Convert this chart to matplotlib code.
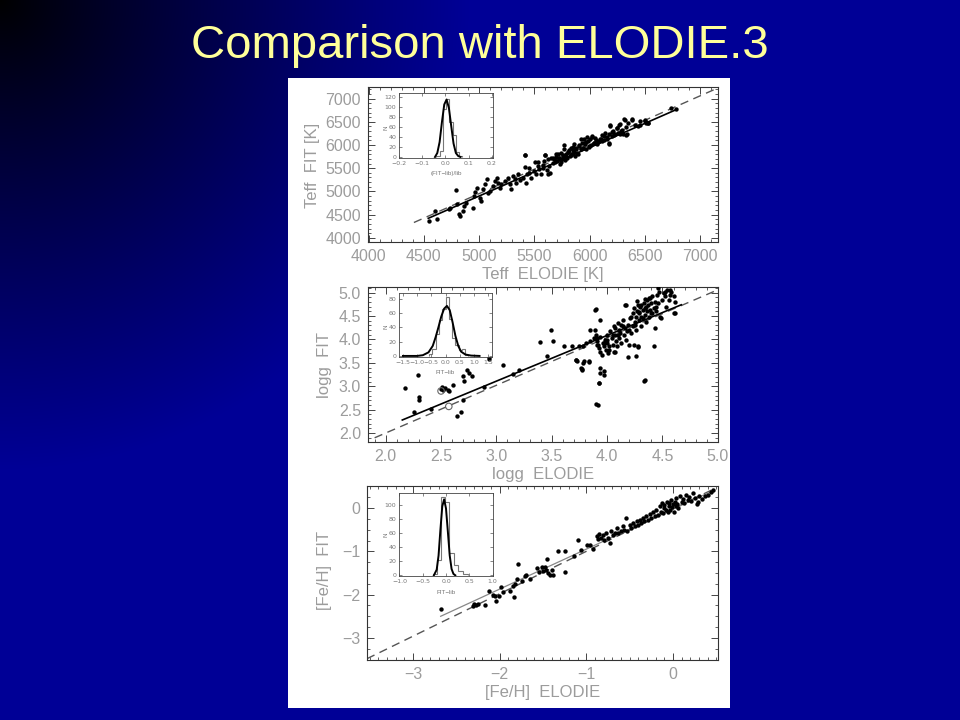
import numpy as np
import matplotlib
matplotlib.use("Agg")
import matplotlib.pyplot as plt
from matplotlib.patches import Rectangle
from matplotlib.ticker import MultipleLocator

# ---------------- data ----------------
title = "Comparison with ELODIE.3"

teff_elodie = [4548, 4598, 4622, 4726, 4741, 4792, 4801, 4815, 4830, 4851, 4860, 4884, 4949, 4955, 4964,
               4979, 5009, 5015, 5033, 5054, 5068, 5083, 5098, 5128, 5143, 5158, 5173, 5188, 5202, 5232,
               5262, 5277, 5292, 5307, 5321, 5336, 5351, 5372, 5396, 5411, 5426, 5411, 5449, 5455, 5470,
               5500, 5515, 5530, 5545, 5560, 5574, 5589, 5598, 5610, 5619, 5634, 5640, 5649, 5664, 5679,
               5693, 5708, 5723, 5729, 5738, 5747, 5759, 5768, 5777, 5789, 5798, 5807, 5819, 5827, 5836,
               5848, 5857, 5866, 5878, 5887, 5902, 5917, 5926, 5938, 5946, 5961, 5970, 5982, 5991, 6006,
               6021, 6036, 6051, 6065, 6080, 6095, 6110, 6125, 6140, 6155, 6170, 6176, 6185, 6199, 6214,
               6229, 6244, 6259, 6274, 6283, 6304, 6313, 6325, 6333, 6348, 6378, 6437, 6452, 6497, 6512,
               6527, 6780,
               5414, 5429, 5503, 5533, 5592, 5577, 5622, 5667, 5682, 5696, 5711, 5726, 5741, 5756, 5771,
               5786, 5800, 5815, 5830, 5845, 5860, 5875, 5890, 5905, 5920, 5935, 5950, 5964, 5979, 5994,
               6009, 6024, 6039, 6054, 6075, 6098, 6113, 6128, 6152, 6173, 6182, 6203, 6223, 6247, 6262,
               6277, 6292, 6321, 6330, 6381, 6411, 6455, 6500, 6530, 6738]
teff_fit = [4359, 4575, 4395, 4611, 4647, 5020, 4733, 4503, 4467, 4575, 4683, 4754, 4647, 4898, 4991,
            5078, 4862, 4790, 5042, 5164, 5257, 4970, 5006, 5114, 5221, 5293, 5185, 5078, 5150, 5221,
            5293, 5150, 5042, 5329, 5257, 5185, 5365, 5236, 5293, 5523, 5185, 5782, 5401, 5509, 5293,
            5437, 5365, 5545, 5473, 5379, 5580, 5652, 5782, 5451, 5688, 5545, 5401, 5724, 5616, 5688,
            5796, 5652, 5724, 5595, 5832, 5688, 5760, 5904, 5667, 5796, 5724, 5853, 5760, 5940, 5810,
            5882, 6011, 5760, 5904, 5832, 5975, 5904, 6048, 5940, 6119, 6011, 5904, 6083, 5975, 6119,
            6191, 6048, 6155, 6011, 6083, 6119, 6083, 6191, 6263, 6119, 6227, 6011, 6407, 6191, 6299,
            6227, 6371, 6263, 6443, 6299, 6227, 6551, 6386, 6227, 6479, 6551, 6407, 6515, 6515, 6479,
            6479, 6766,
            5782, 5386, 5638, 5638, 5782, 5494, 5386, 5710, 5638, 5746, 5817, 5710, 5638, 5782, 5997,
            5746, 5853, 5890, 5782, 5961, 5853, 5925, 5817, 5997, 6140, 5925, 6033, 6069, 6177, 5961,
            5997, 6177, 6033, 6105, 6069, 6140, 6212, 6105, 6177, 6033, 6428, 6284, 6212, 6356, 6428,
            6248, 6320, 6536, 6212, 6536, 6428, 6428, 6536, 6464, 6787]
teff_one2one_x = [4410, 7160]
teff_one2one_y = [4330, 7230]
teff_fitline_x = [4540, 6780]
teff_fitline_y = [4420, 6760]
teff_hist_edges = [-0.039, -0.025, -0.011, 0.003, 0.017, 0.031, 0.045, 0.059, 0.073]
teff_hist_counts = [3, 12, 96, 116, 70, 45, 10, 2]
teff_gauss_x = [-0.045, -0.035, -0.025, -0.015, -0.005, 0.005, 0.015, 0.025, 0.035, 0.045, 0.055, 0.065]
teff_gauss_y = [0, 8, 30, 70, 105, 115, 98, 62, 27, 8, 2, 0]

logg_elodie = [2.17, 2.29, 2.30, 2.30, 2.26, 2.41, 2.50, 2.51, 2.52, 2.54, 2.56, 2.57, 2.61, 2.64, 2.68,
               2.70, 2.70, 2.71, 2.73, 2.75, 2.78, 2.89, 2.93, 2.93, 3.06, 3.15, 3.20, 3.39, 3.46, 3.49,
               3.51, 3.61, 3.68, 3.72, 3.73, 3.75, 3.76, 3.77, 3.79, 3.81, 3.84, 3.85, 3.89, 3.89, 3.90,
               3.91, 3.91, 3.92, 3.93, 3.94, 3.94, 3.95, 3.96, 3.97, 3.97, 3.97, 3.98, 3.99, 4.00, 4.00,
               4.01, 4.02, 4.03, 4.04, 4.05, 4.06, 4.06, 4.07, 4.08, 4.09, 4.10, 4.11, 4.11, 4.12, 4.13,
               4.14, 4.14, 4.15, 4.16, 4.17, 4.17, 4.18, 4.19, 4.20, 4.20, 4.21, 4.22, 4.23, 4.23, 4.24,
               4.25, 4.26, 4.26, 4.27, 4.28, 4.29, 4.29, 4.30, 4.31, 4.31, 4.32, 4.33, 4.34, 4.34, 4.35,
               4.36, 4.36, 4.37, 4.38, 4.39, 4.39, 4.40, 4.41, 4.41, 4.42, 4.43, 4.44, 4.44, 4.45, 4.46,
               4.47, 4.48, 4.50, 4.51, 4.52, 4.53, 4.54, 4.56, 4.57, 4.58, 4.60, 4.61, 4.34, 4.61, 4.42,
               4.26, 4.28, 3.92, 3.93,
               3.90, 3.94, 3.85, 3.78, 3.72, 3.78, 3.84, 3.77, 3.94, 3.94, 3.93, 3.90, 4.19, 4.24, 4.28,
               4.33, 4.16, 4.27, 4.34, 4.38, 4.46, 4.52, 4.57, 4.60, 4.49, 4.43, 4.07, 4.05, 4.00, 3.97,
               3.91, 3.88, 4.02, 4.07, 4.10, 4.13, 4.22, 4.29, 4.32, 4.35, 4.40, 4.25, 4.31]
logg_fit = [2.96, 3.24, 2.78, 2.70, 2.45, 2.51, 2.94, 2.98, 2.92, 2.96, 2.92, 2.89, 3.03, 2.36, 2.46,
            2.70, 3.21, 3.12, 3.35, 3.29, 3.22, 2.98, 3.62, 3.59, 3.46, 3.27, 3.35, 3.94, 3.65, 4.20,
            3.97, 3.85, 3.85, 3.56, 3.55, 3.85, 3.39, 3.37, 3.53, 3.92, 3.53, 3.96, 4.63, 4.20, 4.10,
            4.03, 3.96, 3.88, 3.81, 3.74, 4.06, 3.67, 3.92, 3.85, 3.32, 3.24, 3.99, 3.78, 4.10, 3.92,
            3.71, 3.85, 4.17, 4.03, 3.88, 4.28, 3.74, 4.10, 3.96, 3.85, 4.35, 4.20, 4.03, 4.13, 3.92,
            4.28, 4.42, 4.10, 4.24, 4.74, 3.99, 4.17, 4.31, 3.88, 4.20, 4.45, 4.13, 4.56, 4.28, 4.67,
            4.38, 4.49, 4.20, 4.60, 4.74, 4.42, 4.56, 4.70, 4.28, 4.49, 4.63, 4.77, 4.53, 4.67, 4.38,
            4.84, 4.60, 4.74, 4.49, 4.88, 4.63, 4.77, 4.56, 4.92, 4.67, 4.81, 4.60, 4.70, 4.95, 4.77,
            5.02, 4.49, 4.84, 4.99, 4.92, 4.70, 5.06, 4.84, 4.95, 5.02, 4.92, 4.81, 3.14, 4.56, 3.85,
            3.64, 3.85, 2.60, 3.07,
            4.65, 4.42, 4.20, 3.85, 3.56, 3.49, 3.51, 3.35, 3.39, 3.28, 3.07, 2.62, 3.63, 3.88, 3.83,
            3.12, 4.74, 4.82, 4.87, 4.88, 5.09, 5.02, 5.06, 4.56, 4.45, 4.25, 4.24, 4.10, 3.99, 3.92,
            3.88, 4.03, 3.78, 3.74, 4.10, 4.31, 4.49, 4.59, 4.45, 4.70, 4.56, 4.31, 4.74]
logg_open_x = [2.50, 2.57]
logg_open_y = [2.90, 2.57]
logg_one2one_x = [1.90, 5.00]
logg_one2one_y = [1.90, 5.06]
logg_fitline_x = [2.15, 4.67]
logg_fitline_y = [2.28, 4.74]
logg_hist_edges = [-0.58, -0.46, -0.35, -0.23, -0.12, 0.0, 0.12, 0.23, 0.35, 0.46, 0.58, 0.69, 0.81]
logg_hist_counts = [2, 10, 30, 50, 65, 82, 52, 25, 15, 8, 10, 1]
logg_gauss_x = [-1.5, -1.0, -0.8, -0.6, -0.45, -0.35, -0.25, -0.15, -0.05, 0.05, 0.15, 0.25, 0.35,
                0.45, 0.55, 0.7, 0.9, 1.2]
logg_gauss_y = [0, 0, 1, 5, 14, 26, 40, 55, 66, 70, 64, 47, 28, 14, 6, 2, 0.5, 0]

feh_elodie = [-2.68, -2.31, -2.29, -2.27, -2.25, -2.17, -2.12, -2.08, -2.05, -2.04, -2.01, -1.98, -1.96,
              -1.88, -1.85, -1.83, -1.82, -1.80, -1.79, -1.74, -1.71, -1.69, -1.65, -1.57, -1.54, -1.51,
              -1.50, -1.48, -1.46, -1.45, -1.44, -1.42, -1.40, -1.38, -1.33, -1.25, -1.24, -1.14, -1.10,
              -1.06, -0.99, -0.96, -0.92, -0.88, -0.87, -0.85, -0.83, -0.81, -0.79, -0.77, -0.75, -0.73,
              -0.72, -0.69, -0.67, -0.65, -0.63, -0.60, -0.58, -0.56, -0.54, -0.53, -0.50, -0.48, -0.46,
              -0.44, -0.42, -0.40, -0.38, -0.37, -0.35, -0.33, -0.31, -0.29, -0.27, -0.25, -0.23, -0.21,
              -0.19, -0.17, -0.15, -0.14, -0.13, -0.12, -0.10, -0.10, -0.08, -0.07, -0.06, -0.05, -0.04,
              -0.03, -0.02, -0.01, 0.00, 0.01, 0.02, 0.03, 0.04, 0.05, 0.06, 0.08, 0.10, 0.12, 0.13,
              0.15, 0.17, 0.19, 0.21, 0.23, 0.25, 0.28, 0.30, 0.33, 0.37, 0.40, 0.44, 0.46, 0.29]
feh_fit = [-2.33, -2.27, -2.22, -2.25, -2.21, -2.23, -1.92, -2.00, -2.04, -2.14, -2.02, -1.83, -1.95,
           -1.92, -1.81, -2.06, -1.75, -1.65, -1.29, -1.69, -1.58, -1.55, -1.65, -1.38, -1.48, -1.37,
           -1.45, -1.35, -1.42, -1.17, -1.50, -1.54, -1.42, -1.54, -1.00, -1.48, -1.00, -1.10, -0.73,
           -0.98, -0.85, -0.85, -0.94, -0.65, -0.72, -0.60, -0.69, -0.63, -0.73, -0.58, -0.68, -0.81,
           -0.54, -0.63, -0.58, -0.46, -0.58, -0.54, -0.42, -0.50, -0.23, -0.54, -0.38, -0.46, -0.35,
           -0.42, -0.31, -0.38, -0.27, -0.35, -0.23, -0.31, -0.19, -0.27, -0.14, -0.23, -0.08, -0.19,
           -0.04, -0.15, 0.04, -0.08, 0.12, -0.12, 0.00, 0.08, -0.04, 0.15, -0.08, 0.04, 0.12,
           -0.04, 0.19, 0.02, 0.09, -0.08, 0.15, 0.04, 0.23, 0.09, 0.00, 0.27, 0.15, 0.22, 0.12,
           0.31, 0.19, 0.25, 0.17, 0.35, 0.23, 0.09, 0.27, 0.22, 0.27, 0.31, 0.38, 0.42, 0.15]
feh_one2one_x = [-3.53, 0.50]
feh_one2one_y = [-3.48, 0.47]
feh_fitline_x = [-2.68, 0.44]
feh_fitline_y = [-2.50, 0.38]
feh_hist_edges = [-0.29, -0.2, -0.107, -0.021, 0.071, 0.164, 0.264, 0.357, 0.464]
feh_hist_counts = [2, 22, 111, 104, 32, 14, 6, 2]
feh_gauss_x = [-0.26, -0.2, -0.16, -0.12, -0.08, -0.04, 0.0, 0.04, 0.08, 0.12, 0.16, 0.2]
feh_gauss_y = [0, 8, 28, 65, 98, 108, 95, 62, 28, 9, 2, 0]

# ---------------- figure ----------------
W, H = 960, 720
fig = plt.figure(figsize=(9.6, 7.2), dpi=100)
FONT = "Liberation Sans"
GRAY = "#9c9c9c"


def fbox(l, t, r, b):
    return [l / W, 1 - b / H, (r - l) / W, (b - t) / H]


# slide background gradient
bg = fig.add_axes([0, 0, 1, 1], zorder=-10)
yy, xx = np.mgrid[0:H, 0:W]
fac = np.clip(np.hypot(xx, yy) / 470.0, 0, 1) ** 0.9
img = np.zeros((H, W, 3))
img[..., 2] = 0.59 * fac
bg.imshow(img, extent=[0, W, H, 0], aspect="auto", interpolation="bilinear")
bg.set_xlim(0, W)
bg.set_ylim(H, 0)
bg.axis("off")

# white panel
fig.add_artist(Rectangle((288 / W, 1 - 708 / H), 442 / W, 630 / H, transform=fig.transFigure,
                         facecolor="white", edgecolor="none", zorder=-5))

fig.text(0.5, 1 - 58 / H, title, ha="center", va="baseline", color="#FFFF99",
         fontsize=34, family=FONT)


def style(ax, xmaj, xmin, ymaj, ymin, lsize=11.5, pad=5, majlen=5, minlen=2.5):
    ax.xaxis.set_major_locator(MultipleLocator(xmaj))
    ax.xaxis.set_minor_locator(MultipleLocator(xmin))
    ax.yaxis.set_major_locator(MultipleLocator(ymaj))
    ax.yaxis.set_minor_locator(MultipleLocator(ymin))
    ax.tick_params(which="both", direction="in", top=True, right=True, colors="#444444",
                   labelcolor=GRAY, labelsize=lsize, pad=pad)
    ax.tick_params(which="major", length=majlen, width=0.7)
    ax.tick_params(which="minor", length=minlen, width=0.6)
    for lab in ax.get_xticklabels() + ax.get_yticklabels():
        lab.set_family(FONT)
    for s in ax.spines.values():
        s.set_color("#333333")
        s.set_linewidth(0.8)


def main_panel(box, xs, ys, one_x, one_y, fit_x, fit_y, xlim, ylim, ticks, fitcolor="black", fitlw=1.2):
    ax = fig.add_axes(fbox(*box))
    ax.scatter(xs, ys, s=10, color="black", linewidths=0, zorder=3)
    ax.plot(one_x, one_y, color="#555555", lw=1.0, ls=(0, (6, 4)), zorder=2)
    ax.plot(fit_x, fit_y, color=fitcolor, lw=fitlw, zorder=2)
    ax.set_xlim(*xlim)
    ax.set_ylim(*ylim)
    style(ax, *ticks)
    return ax


def inset(box, edges, counts, gx, gy, xlim, ylim, xmaj, ymaj, fmt):
    ax = fig.add_axes(fbox(*box), zorder=5)
    ax.stairs(counts, edges, color="#777777", lw=0.8, baseline=0)
    ax.plot(gx, gy, color="black", lw=1.4)
    ax.set_xlim(*xlim)
    ax.set_ylim(*ylim)
    ax.xaxis.set_major_locator(MultipleLocator(xmaj))
    ax.yaxis.set_major_locator(MultipleLocator(ymaj))
    ax.xaxis.set_major_formatter(fmt)
    ax.tick_params(which="both", direction="in", top=True, right=True, colors="#555555",
                   labelcolor="#777777", labelsize=4.5, pad=2, length=2, width=0.5)
    for s in ax.spines.values():
        s.set_color("#444444")
        s.set_linewidth(0.6)
    return ax


# Panel 1: Teff
ax1 = main_panel((368, 87, 718, 242), teff_elodie, teff_fit, teff_one2one_x, teff_one2one_y,
                 teff_fitline_x, teff_fitline_y, (3995, 7160), (3910, 7250), (500, 100, 500, 100))
fig.text(543 / W, 1 - 275 / H, "Teff  ELODIE [K]", ha="center", va="center", color=GRAY,
         fontsize=12, family=FONT)
fig.text(313 / W, 1 - 165 / H, "Teff  FIT [K]", ha="center", va="center", color=GRAY,
         fontsize=12, family=FONT, rotation=90)

# Panel 2: logg
ax2 = main_panel((368, 287, 718, 442), logg_elodie, logg_fit, logg_one2one_x, logg_one2one_y,
                 logg_fitline_x, logg_fitline_y, (1.84, 5.002), (1.81, 5.12), (0.5, 0.1, 0.5, 0.1))
ax2.xaxis.set_major_formatter("{x:.1f}")
ax2.yaxis.set_major_formatter("{x:.1f}")
for lab in ax2.get_xticklabels() + ax2.get_yticklabels():
    lab.set_family(FONT)
ax2.scatter(logg_open_x, logg_open_y, s=22, facecolors="none", edgecolors="#666666",
            linewidths=0.8, zorder=4)
fig.text(543 / W, 1 - 474 / H, "logg  ELODIE", ha="center", va="center", color=GRAY,
         fontsize=12, family=FONT)
fig.text(325 / W, 1 - 365 / H, "logg  FIT", ha="center", va="center", color=GRAY,
         fontsize=12, family=FONT, rotation=90)

# Panel 3: [Fe/H]
ax3 = main_panel((367, 486, 718, 660), feh_elodie, feh_fit, feh_one2one_x, feh_one2one_y,
                 feh_fitline_x, feh_fitline_y, (-3.53, 0.52), (-3.51, 0.51), (1, 0.1, 1, 0.25),
                 fitcolor="#888888", fitlw=0.9)
ax3.xaxis.set_major_formatter("{x:.0f}")
ax3.yaxis.set_major_formatter("{x:.0f}")
for lab in ax3.get_xticklabels() + ax3.get_yticklabels():
    lab.set_family(FONT)
fig.text(543 / W, 1 - 693 / H, "[Fe/H]  ELODIE", ha="center", va="center", color=GRAY,
         fontsize=12, family=FONT)
fig.text(325 / W, 1 - 570 / H, "[Fe/H]  FIT", ha="center", va="center", color=GRAY,
         fontsize=12, family=FONT, rotation=90)

# Insets
in1 = inset((399, 93, 493, 158), teff_hist_edges, teff_hist_counts, teff_gauss_x, teff_gauss_y,
            (-0.2, 0.205), (-2, 128), 0.1, 20, "{x:.1f}")
fig.text(446 / W, 1 - 173 / H, "(FIT−lib)/lib", ha="center", va="center", color="#777777",
         fontsize=4.5, family=FONT)
fig.text(386 / W, 1 - 128 / H, "N", ha="center", va="center", color="#777777",
         fontsize=4.5, family=FONT, rotation=90)

in2 = inset((399, 293, 492, 357), logg_hist_edges, logg_hist_counts, logg_gauss_x, logg_gauss_y,
            (-1.64, 1.64), (-1.5, 88), 0.5, 20, "{x:.1f}")
fig.text(445 / W, 1 - 372 / H, "FIT−lib", ha="center", va="center", color="#777777",
         fontsize=4.5, family=FONT)
fig.text(386 / W, 1 - 327 / H, "N", ha="center", va="center", color="#777777",
         fontsize=4.5, family=FONT, rotation=90)

in3 = inset((399, 493, 493, 576), feh_hist_edges, feh_hist_counts, feh_gauss_x, feh_gauss_y,
            (-1.01, 1.01), (-1, 117), 0.5, 20, "{x:.1f}")
fig.text(446 / W, 1 - 592 / H, "FIT−lib", ha="center", va="center", color="#777777",
         fontsize=4.5, family=FONT)
fig.text(386 / W, 1 - 535 / H, "N", ha="center", va="center", color="#777777",
         fontsize=4.5, family=FONT, rotation=90)

fig.savefig("out.png", dpi=100)
